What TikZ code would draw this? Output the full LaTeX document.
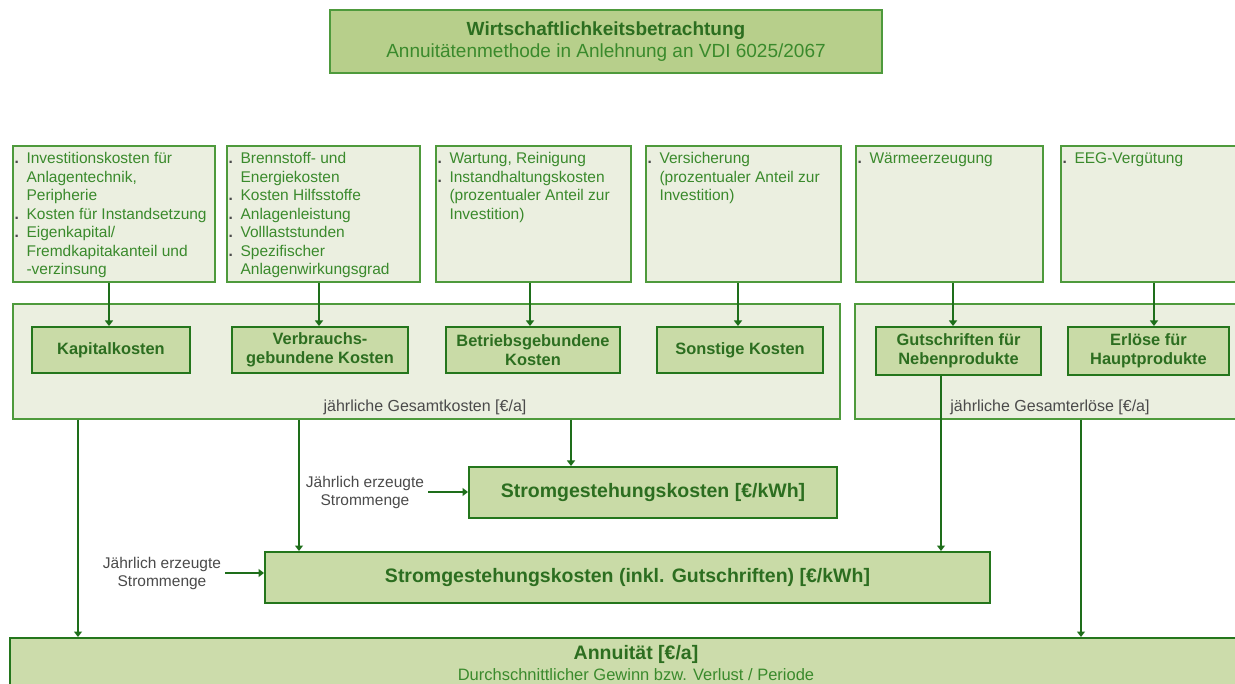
\documentclass[tikz,border=0pt]{standalone}
\usepackage{fontspec}
\setmainfont{Liberation Sans}
\usetikzlibrary{arrows.meta}
\definecolor{topfill}{HTML}{EBEFE0}
\definecolor{boxline}{HTML}{4E9A3C}
\definecolor{darkline}{HTML}{24761C}
\definecolor{innerfill}{HTML}{C9DBA7}
\definecolor{titlefill}{HTML}{B7CF8B}
\definecolor{annfill}{HTML}{CCDCAB}
\definecolor{arrowc}{HTML}{1E6E1A}
\definecolor{toptext}{HTML}{3A8A2C}
\definecolor{innertext}{HTML}{2C6E20}
\definecolor{graytext}{HTML}{4A4A4A}
\newcommand\itm{\makebox[12pt][l]{\textcolor{graytext}{\textbf{.}}}}
\newcommand\ind{\hspace*{12pt}}
\begin{document}
\begin{tikzpicture}[x=1pt,y=-1pt,
  topbox/.style={draw=boxline,fill=topfill,line width=1.3pt,inner sep=0pt},
  toptxt/.style={anchor=north west,inner sep=0pt,align=left,text=toptext,
    font=\fontsize{15.5}{18.5}\selectfont},
  container/.style={draw=boxline,fill=topfill,line width=1.2pt,inner sep=0pt},
  innerbox/.style={draw=darkline,fill=innerfill,line width=2pt,align=center,
    text=innertext,font=\fontsize{16.4}{19.5}\selectfont\bfseries},
  bigbox/.style={draw=darkline,fill=innerfill,line width=2pt,align=center,
    text=innertext,font=\fontsize{19.5}{23}\selectfont\bfseries},
  sumlbl/.style={text=graytext,font=\fontsize{16}{19}\selectfont,inner sep=0pt},
  sidelbl/.style={text=graytext,align=center,font=\fontsize{15.5}{18}\selectfont,inner sep=0pt},
  arr/.style={draw=arrowc,line width=2pt,-{Triangle[width=8pt,length=5.5pt]}}]
\useasboundingbox (0,0) rectangle (1235,684);

% title
\node[draw=boxline,fill=titlefill,line width=1.5pt,minimum width=552pt,minimum height=63pt,
  align=center,inner sep=0pt,font=\fontsize{19}{21.5}\selectfont] (title) at (606,41.5)
  {\textbf{\textcolor{innertext}{Wirtschaftlichkeitsbetrachtung}}\\
   \textcolor{toptext}{Annuitätenmethode in Anlehnung an VDI 6025/2067}};

% top boxes
\node[topbox,minimum width=202pt,minimum height=136pt] (t1) at (114,214) {};
\node[topbox,minimum width=193pt,minimum height=136pt] (t2) at (323.5,214) {};
\node[topbox,minimum width=195pt,minimum height=136pt] (t3) at (533.5,214) {};
\node[topbox,minimum width=195pt,minimum height=136pt] (t4) at (743.5,214) {};
\node[topbox,minimum width=187pt,minimum height=136pt] (t5) at (949.5,214) {};
\node[topbox,minimum width=199pt,minimum height=136pt] (t6) at (1160.5,214) {};

\node[toptxt] (tx1) at ([xshift=2pt,yshift=-7pt]t1.north west)
  {\itm Investitionskosten für\\ \ind Anlagentechnik,\\ \ind Peripherie\\
   \itm Kosten für Instandsetzung\\ \itm Eigenkapital/\\ \ind Fremdkapitakanteil und\\ \ind -verzinsung};
\node[toptxt] (tx2) at ([xshift=2pt,yshift=-7pt]t2.north west)
  {\itm Brennstoff- und\\ \ind Energiekosten\\ \itm Kosten Hilfsstoffe\\ \itm Anlagenleistung\\
   \itm Volllaststunden\\ \itm Spezifischer\\ \ind Anlagenwirkungsgrad};
\node[toptxt] (tx3) at ([xshift=2pt,yshift=-7pt]t3.north west)
  {\itm Wartung, Reinigung\\ \itm Instandhaltungskosten\\ \ind (prozentualer Anteil zur\\ \ind Investition)};
\node[toptxt] (tx4) at ([xshift=2pt,yshift=-7pt]t4.north west)
  {\itm Versicherung\\ \ind (prozentualer Anteil zur\\ \ind Investition)};
\node[toptxt] (tx5) at ([xshift=2pt,yshift=-7pt]t5.north west) {\itm Wärmeerzeugung};
\node[toptxt] (tx6) at ([xshift=2pt,yshift=-7pt]t6.north west) {\itm EEG-Vergütung};

% containers
\node[container,minimum width=827pt,minimum height=115pt] (c1) at (426.5,361.5) {};
\node[container,minimum width=405pt,minimum height=115pt] (c2) at (1057.5,361.5) {};
\node[sumlbl] (c1l) at (425,407) {jährliche Gesamtkosten [€/a]};
\node[sumlbl] (c2l) at (1050,407) {jährliche Gesamterlöse [€/a]};

% inner boxes
\node[innerbox,minimum width=158pt,minimum height=46pt] (k1) at (111,350) {Kapitalkosten};
\node[innerbox,minimum width=176pt,minimum height=46pt] (k2) at (320,350) {Verbrauchs-\\gebundene Kosten};
\node[innerbox,minimum width=174pt,minimum height=46pt] (k3) at (533,350) {Betriebsgebundene\\Kosten};
\node[innerbox,minimum width=166pt,minimum height=46pt] (k4) at (740,350) {Sonstige Kosten};
\node[innerbox,minimum width=165pt,minimum height=48pt] (g1) at (958.5,351) {Gutschriften für\\Nebenprodukte};
\node[innerbox,minimum width=161pt,minimum height=48pt] (g2) at (1148.5,351) {Erlöse für\\Hauptprodukte};

% arrows top -> inner
\coordinate (a1) at (109,0);
\coordinate (a2) at (319,0);
\coordinate (a3) at (530,0);
\coordinate (a4) at (738,0);
\coordinate (a5) at (953,0);
\coordinate (a6) at (1154,0);
\draw[arr] (t1.south -| a1) -- (k1.north -| a1);
\draw[arr] (t2.south -| a2) -- (k2.north -| a2);
\draw[arr] (t3.south -| a3) -- (k3.north -| a3);
\draw[arr] (t4.south -| a4) -- (k4.north -| a4);
\draw[arr] (t5.south -| a5) -- (g1.north -| a5);
\draw[arr] (t6.south -| a6) -- (g2.north -| a6);

% result boxes
\node[bigbox,minimum width=368pt,minimum height=51pt] (s1) at (653,492.5) {Stromgestehungskosten [€/kWh]};
\node[bigbox,minimum width=725pt,minimum height=51pt] (s2) at (627.5,577.5) {Stromgestehungskosten (inkl. Gutschriften) [€/kWh]};
\node[draw=darkline,fill=annfill,line width=2pt,minimum width=1250pt,minimum height=60pt,inner sep=0pt] (ann) at (635,668) {};
\node[align=center,inner sep=0pt,font=\fontsize{17}{21}\selectfont] (annt) at (636,663)
  {{\fontsize{19.5}{21}\selectfont\bfseries\textcolor{innertext}{Annuität [€/a]}}\\
   {\fontsize{16.5}{19}\selectfont\textcolor{toptext}{Durchschnittlicher Gewinn bzw. Verlust / Periode}}};

% side labels
\node[sidelbl] (l1) at (365,492) {Jährlich erzeugte\\Strommenge};
\node[sidelbl] (l2) at (162,573) {Jährlich erzeugte\\Strommenge};
\draw[arr] ([xshift=4pt]l1.east) -- (l1.east -| s1.west);
\draw[arr] ([xshift=4pt]l2.east) -- (l2.east -| s2.west);

% arrows down
\coordinate (d1) at (78,0);
\coordinate (d2) at (299,0);
\coordinate (d3) at (571,0);
\coordinate (d4) at (941,0);
\coordinate (d5) at (1081,0);
\draw[arr] (c1.south -| d1) -- (ann.north -| d1);
\draw[arr] (c1.south -| d2) -- (s2.north -| d2);
\draw[arr] (c1.south -| d3) -- (s1.north -| d3);
\draw[arr] (g1.south -| d4) -- (s2.north -| d4);
\draw[arr] (c2.south -| d5) -- (ann.north -| d5);
\end{tikzpicture}
\end{document}
